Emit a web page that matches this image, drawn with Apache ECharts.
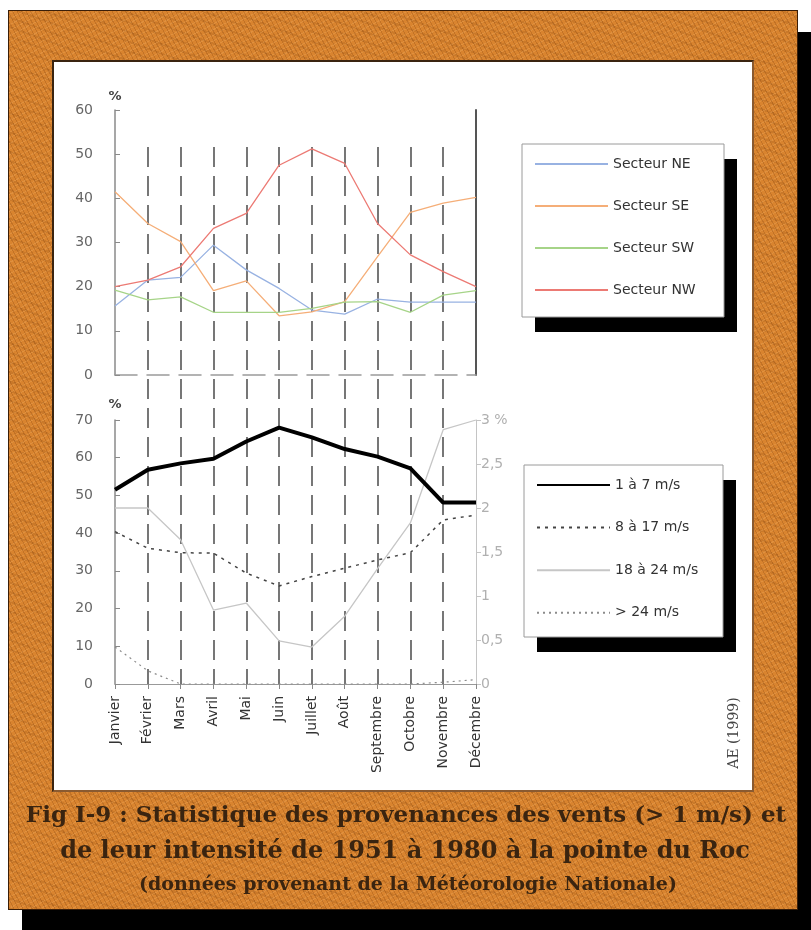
<!DOCTYPE html>
<html>
<head>
<meta charset="utf-8">
<script src="https://cdn.jsdelivr.net/npm/echarts@6/dist/echarts.min.js"></script>
<style>
html,body{margin:0;padding:0;background:#fff;}
#shadow{position:absolute;left:22px;top:32px;width:789px;height:898px;background:#000;}
#frame{position:absolute;left:8px;top:10px;width:788px;height:898px;border:1px solid #3a1e08;
 background:
  repeating-linear-gradient(62deg, rgba(110,50,5,0.22) 0 1px, transparent 1px 4px),
  repeating-linear-gradient(-28deg, rgba(255,200,130,0.18) 0 1px, transparent 1px 5px),
  repeating-linear-gradient(20deg, rgba(90,40,0,0.12) 0 2px, transparent 2px 9px),
  #d9842f;}
#panel{position:absolute;left:52px;top:60px;width:698px;height:728px;background:#fff;
 border-top:2px solid #3a2410;border-left:2px solid #3a2410;border-right:2px solid #8a5a30;border-bottom:2px solid #8a5a30;}
#chart{position:absolute;left:0;top:0;width:811px;height:930px;}
</style>
</head>
<body>
<div id="shadow"></div>
<div id="frame"></div>
<div id="panel"></div>
<div id="chart"></div>
<script>
var months = ['Janvier','Février','Mars','Avril','Mai','Juin','Juillet','Août','Septembre','Octobre','Novembre','Décembre'];
var secteurNE = [15.6, 21.5, 22.1, 29.4, 23.8, 19.6, 14.7, 13.8, 17.2, 16.5, 16.5, 16.5];
var secteurSE = [41.5, 34.3, 30.2, 19.1, 21.3, 13.4, 14.3, 16.6, 26.8, 36.8, 38.9, 40.2];
var secteurSW = [19.2, 17.0, 17.7, 14.2, 14.2, 14.2, 15.1, 16.5, 16.6, 14.2, 18.1, 19.1];
var secteurNW = [20.0, 21.5, 24.5, 33.2, 36.6, 47.5, 51.2, 47.9, 34.3, 27.2, 23.4, 20.0];
var vent1a7 = [51.5, 56.8, 58.5, 59.7, 64.3, 68.0, 65.4, 62.3, 60.3, 57.2, 48.1, 48.1];
var vent8a17 = [40.4, 36.0, 34.8, 34.7, 29.4, 26.0, 28.5, 30.7, 32.9, 34.8, 43.5, 44.8];
var vent18a24 = [2.0, 2.0, 1.64, 0.84, 0.92, 0.49, 0.42, 0.77, 1.31, 1.83, 2.89, 3.0];
var ventSup24 = [0.42, 0.15, 0, 0, 0, 0, 0, 0, 0, 0, 0.02, 0.05];
var namesTop = ['Secteur NE','Secteur SE','Secteur SW','Secteur NW'];
var namesBottom = ['1 à 7 m/s','8 à 17 m/s','18 à 24 m/s','> 24 m/s'];
var captionLines = ['Fig I-9 : Statistique des provenances des vents (> 1 m/s) et',
  'de leur intensité de 1951 à 1980 à la pointe du Roc',
  '(données provenant de la Météorologie Nationale)'];
var credit = 'AE (1999)';

var FF = 'DejaVu Sans, Liberation Sans, sans-serif';
var SERIF = 'DejaVu Serif, Liberation Serif, serif';
var chart = echarts.init(document.getElementById('chart'), null, {renderer:'canvas'});

function legendCfg(data, left, top, gap){
  return {
    data: data, orient:'vertical', left:left, top:top,
    itemWidth:73, itemHeight:12, itemGap:gap,
    padding:[13,34,25,12],
    itemStyle:{opacity:0},
    textStyle:{fontFamily:FF, fontSize:14, color:'#333'}
  };
}
function boxPair(x, y, w, h){
  return [
    {type:'rect', z:1, shape:{x:x+13, y:y+15, width:w, height:h}, style:{fill:'#000'}},
    {type:'rect', z:1, shape:{x:x, y:y, width:w, height:h}, style:{fill:'#fff', stroke:'#9a9a9a', lineWidth:1}}
  ];
}
var axisLbl = {fontFamily:FF, fontSize:14, color:'#666'};

chart.setOption({
  animation:false,
  backgroundColor:'transparent',
  grid:[
    {left:115, right:335, top:110, bottom:555, outerBoundsMode:'none'},
    {left:115, right:335, top:420, bottom:246, outerBoundsMode:'none'},
    {left:115, right:335, top:147, bottom:246, outerBoundsMode:'none'}
  ],
  legend:[legendCfg(namesTop, 522, 144, 28), legendCfg(namesBottom, 524, 465, 28.6)],
  xAxis:[
    {gridIndex:0, type:'category', data:months, boundaryGap:false,
     axisLabel:{show:false}, axisTick:{show:false},
     axisLine:{lineStyle:{color:'#9a9a9a', width:1.5, type:[22,10]}}, splitLine:{show:false}},
    {gridIndex:1, type:'category', data:months, boundaryGap:false,
     axisLabel:{rotate:90, interval:0, margin:12, fontFamily:FF, fontSize:14, color:'#333'},
     axisTick:{show:true, length:5, lineStyle:{color:'#888'}},
     axisLine:{lineStyle:{color:'#999', width:1}}, splitLine:{show:false}},
    {gridIndex:2, type:'category', data:months, boundaryGap:false,
     axisLabel:{show:false}, axisTick:{show:false}, axisLine:{show:false},
     splitLine:{show:true, interval:function(i){return i>0 && i<11;},
       lineStyle:{color:'#555', width:1.6, type:[20,9]}}}
  ],
  yAxis:[
    {gridIndex:0, type:'value', min:0, max:60, interval:10, name:'%', nameGap:7,
     nameTextStyle:{fontFamily:FF, fontSize:13, fontWeight:'bold', color:'#444'},
     axisLine:{show:true, lineStyle:{color:'#8a8a8a', width:1.5}},
     axisTick:{show:true, inside:true, length:5, lineStyle:{color:'#8a8a8a'}},
     axisLabel:Object.assign({margin:22}, axisLbl), splitLine:{show:false}},
    {gridIndex:0, type:'value', min:0, max:60, position:'right',
     axisLine:{show:true, lineStyle:{color:'#555', width:2}},
     axisTick:{show:false}, axisLabel:{show:false}, splitLine:{show:false}},
    {gridIndex:1, type:'value', min:0, max:70, interval:10, name:'%', nameGap:9,
     nameTextStyle:{fontFamily:FF, fontSize:13, fontWeight:'bold', color:'#444'},
     axisLine:{show:true, lineStyle:{color:'#8a8a8a', width:1.5}},
     axisTick:{show:true, inside:true, length:5, lineStyle:{color:'#8a8a8a'}},
     axisLabel:Object.assign({margin:22}, axisLbl), splitLine:{show:false}},
    {gridIndex:1, type:'value', min:0, max:3, interval:0.5, position:'right',
     axisLine:{show:true, lineStyle:{color:'#c4c4c4', width:1}},
     axisTick:{show:true, length:5, lineStyle:{color:'#c4c4c4'}},
     axisLabel:{margin:5, fontFamily:FF, fontSize:14, color:'#b0b0b0',
       formatter:function(v){ return v===3 ? '3 %' : String(v).replace('.', ','); }},
     splitLine:{show:false}},
    {gridIndex:2, type:'value', show:false, min:0, max:1}
  ],
  series:[
    {name:namesTop[0], type:'line', xAxisIndex:0, yAxisIndex:0, data:secteurNE, symbol:'none',
     color:'#98b2e2', lineStyle:{width:1.3}},
    {name:namesTop[1], type:'line', xAxisIndex:0, yAxisIndex:0, data:secteurSE, symbol:'none',
     color:'#f5ae78', lineStyle:{width:1.3}},
    {name:namesTop[2], type:'line', xAxisIndex:0, yAxisIndex:0, data:secteurSW, symbol:'none',
     color:'#a6d488', lineStyle:{width:1.3}},
    {name:namesTop[3], type:'line', xAxisIndex:0, yAxisIndex:0, data:secteurNW, symbol:'none',
     color:'#ec7a74', lineStyle:{width:1.3}},
    {name:namesBottom[0], type:'line', xAxisIndex:1, yAxisIndex:2, data:vent1a7, symbol:'none',
     color:'#000', lineStyle:{width:4}, z:5},
    {name:namesBottom[1], type:'line', xAxisIndex:1, yAxisIndex:2, data:vent8a17, symbol:'none',
     color:'#444', lineStyle:{width:1.5, type:[3,5]}},
    {name:namesBottom[2], type:'line', xAxisIndex:1, yAxisIndex:3, data:vent18a24, symbol:'none',
     color:'#c6c6c6', lineStyle:{width:1.3}},
    {name:namesBottom[3], type:'line', xAxisIndex:1, yAxisIndex:3, data:ventSup24, symbol:'none',
     color:'#8c8c8c', lineStyle:{width:1.2, type:[2,4]}}
  ],
  graphic:[].concat(boxPair(522, 144, 202, 173), boxPair(524, 465, 199, 172), [
    {type:'text', x:406, y:816, style:{text:captionLines[0], font:'bold 23px '+SERIF, fill:'#3a2410', align:'center', verticalAlign:'middle'}},
    {type:'text', x:405, y:852, style:{text:captionLines[1], font:'bold 24px '+SERIF, fill:'#3a2410', align:'center', verticalAlign:'middle'}},
    {type:'text', x:408, y:885, style:{text:captionLines[2], font:'bold 19px '+SERIF, fill:'#3a2410', align:'center', verticalAlign:'middle'}},
    {type:'text', x:734, y:733, rotation:Math.PI/2, style:{text:credit, font:'14px '+SERIF, fill:'#444', align:'center', verticalAlign:'middle'}}
  ])
});
</script>
</body>
</html>
